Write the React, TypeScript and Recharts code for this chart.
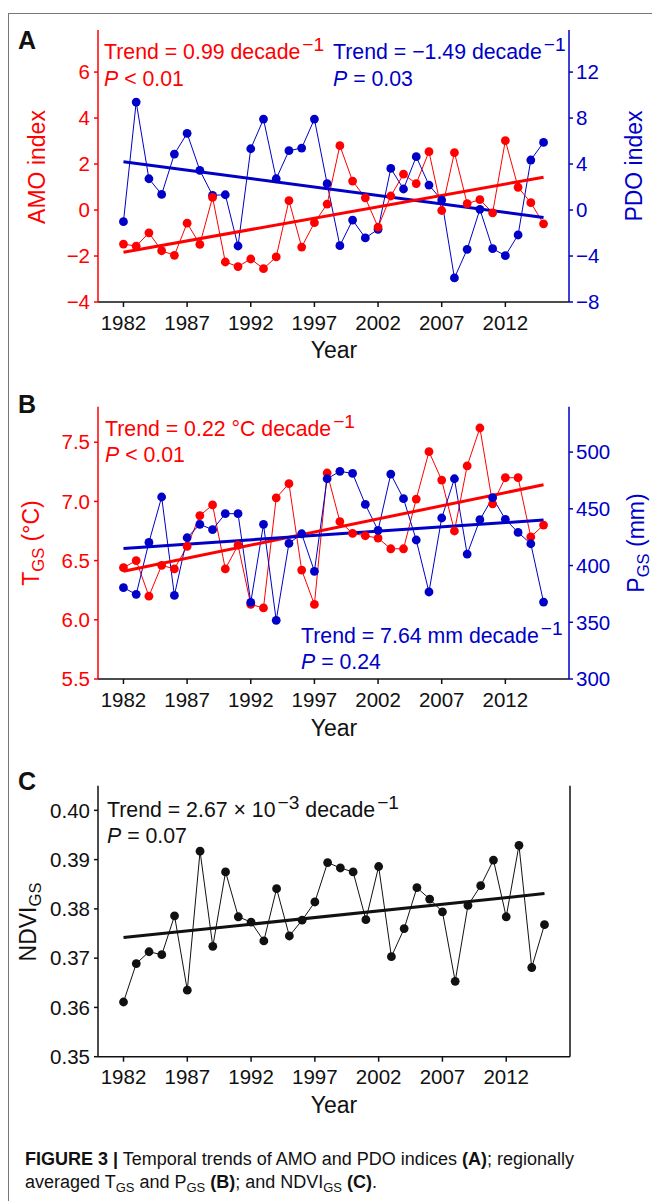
import React from 'react';
import { LineChart, Line, XAxis, YAxis } from 'recharts';

const years = [1982, 1983, 1984, 1985, 1986, 1987, 1988, 1989, 1990, 1991, 1992, 1993, 1994, 1995, 1996, 1997, 1998, 1999, 2000, 2001, 2002, 2003, 2004, 2005, 2006, 2007, 2008, 2009, 2010, 2011, 2012, 2013, 2014, 2015];

const amo = [-1.48, -1.57, -0.99, -1.77, -1.97, -0.57, -1.49, 0.55, -2.26, -2.46, -2.13, -2.55, -2.04, 0.41, -1.61, -0.55, 0.26, 2.8, 1.26, 0.53, -0.74, 0.61, 1.56, 1.15, 2.54, -0.02, 2.5, 0.28, 0.45, -0.12, 3.02, 0.99, 0.32, -0.6];
const pdo = [-1.01, 9.39, 2.72, 1.36, 4.87, 6.67, 3.45, 1.28, 1.33, -3.13, 5.33, 7.91, 2.72, 5.16, 5.39, 7.91, 2.29, -3.1, -0.87, -2.43, -1.68, 3.62, 1.83, 4.64, 2.17, 0.87, -5.91, -3.42, 0.06, -3.36, -3.97, -2.17, 4.35, 5.88];

const tgs = [6.44, 6.5, 6.2, 6.46, 6.43, 6.62, 6.88, 6.97, 6.43, 6.63, 6.13, 6.1, 7.03, 7.15, 6.42, 6.13, 7.24, 6.83, 6.73, 6.71, 6.69, 6.6, 6.6, 7.02, 7.42, 7.18, 6.75, 7.3, 7.62, 6.98, 7.2, 7.2, 6.7, 6.8];
const pgs = [380.5, 374.6, 420.4, 460.4, 373.7, 424.5, 436.3, 431.6, 445.7, 445.7, 367.5, 436.3, 351.7, 419.5, 428.0, 394.9, 476.5, 483.0, 481.2, 453.9, 431.0, 480.6, 458.9, 422.5, 376.7, 441.9, 476.5, 410.1, 440.4, 459.8, 440.7, 429.2, 419.2, 367.8];

const ndvi = [0.3611, 0.3689, 0.3713, 0.3707, 0.3786, 0.3635, 0.3917, 0.3724, 0.3875, 0.3784, 0.3773, 0.3735, 0.3841, 0.3745, 0.3777, 0.3814, 0.3894, 0.3883, 0.3875, 0.3778, 0.3886, 0.3703, 0.376, 0.3843, 0.382, 0.3794, 0.3653, 0.3807, 0.3847, 0.3899, 0.3784, 0.3929, 0.3681, 0.3768];

const trendYears = [1982, 2015];
const amoTrend = [-1.84, 1.43];
const pdoTrend = [4.2, -0.64];
const tgsTrend = [6.41, 7.14];
const pgsTrend = [415.1, 440.1];
const ndviTrend = [0.3742, 0.3831];

const yearTicks = [1982, 1987, 1992, 1997, 2002, 2007, 2012];
const amoTicks = [-4, -2, 0, 2, 4, 6];
const pdoTicks = [-8, -4, 0, 4, 8, 12];
const tgsTicks = [5.5, 6.0, 6.5, 7.0, 7.5];
const pgsTicks = [300, 350, 400, 450, 500];
const ndviTicks = [0.35, 0.36, 0.37, 0.38, 0.39, 0.4];

const RED = '#ff0000';
const BLUE = '#0000c8';
const BLACK = '#111111';
const F = "'Liberation Sans', Arial, Helvetica, sans-serif";
const TICK = 20.5;
const ANN = 21.3;

const dataA = years.map((y, i) => ({ year: y, amo: amo[i], pdo: pdo[i] }));
const dataB = years.map((y, i) => ({ year: y, tgs: tgs[i], pgs: pgs[i] }));
const dataC = years.map((y, i) => ({ year: y, ndvi: ndvi[i] }));
const trendA1 = trendYears.map((y, i) => ({ year: y, v: amoTrend[i] }));
const trendA2 = trendYears.map((y, i) => ({ year: y, v: pdoTrend[i] }));
const trendB1 = trendYears.map((y, i) => ({ year: y, v: tgsTrend[i] }));
const trendB2 = trendYears.map((y, i) => ({ year: y, v: pgsTrend[i] }));
const trendC = trendYears.map((y, i) => ({ year: y, v: ndviTrend[i] }));

const Sup = ({ children }: { children: React.ReactNode }) => (
  <span style={{ fontSize: '0.9em', position: 'relative', top: '-0.42em', marginLeft: 2 }}>{children}</span>
);
const Sub = ({ children }: { children: React.ReactNode }) => (
  <span style={{ fontSize: '0.72em', position: 'relative', top: '0.3em' }}>{children}</span>
);

const Txt = ({ x, y, color, size = ANN, children, weight }: any) => (
  <div
    style={{
      position: 'absolute',
      left: x,
      top: y,
      transform: 'translateY(-50%)',
      color,
      fontSize: size,
      fontFamily: F,
      fontWeight: weight || 'normal',
      whiteSpace: 'nowrap',
      lineHeight: 1,
    }}
  >
    {children}
  </div>
);

const CTxt = ({ x, y, color, size = 23, children, rotate }: any) => (
  <div
    style={{
      position: 'absolute',
      left: x,
      top: y,
      transform: `translate(-50%, -50%)${rotate ? ' rotate(-90deg)' : ''}`,
      color,
      fontSize: size,
      fontFamily: F,
      whiteSpace: 'nowrap',
      lineHeight: 1,
    }}
  >
    {children}
  </div>
);

const tickStyle = (c: string) => ({ fill: c, fontSize: TICK, fontFamily: F });

const commonX = (h: number) => (
  <XAxis
    xAxisId="b"
    dataKey="year"
    type="number"
    domain={[1980, 2017]}
    ticks={yearTicks}
    allowDataOverflow
    height={h}
    tickSize={5}
    tickMargin={8}
    stroke={BLACK}
    strokeWidth={1.5}
    tick={tickStyle(BLACK)}
    tickLine={{ stroke: BLACK, strokeWidth: 1.5 }}
  />
);
const topX = (color: string) => (
  <XAxis
    xAxisId="t"
    dataKey="year"
    type="number"
    domain={[1980, 2017]}
    orientation="top"
    height={0}
    tick={false}
    tickLine={false}
    axisLine={{ stroke: color, strokeWidth: 1.5 }}
  />
);

const dot = (c: string) => ({ r: 4.4, fill: c, stroke: c, strokeWidth: 0 });

export default function App() {
  return (
    <div style={{ position: 'absolute', left: 0, top: 0, width: 652, height: 1201, background: '#fff', overflow: 'hidden' }}>
      {/* frame */}
      <div style={{ position: 'absolute', left: 8, top: 13, width: 644, height: 0, borderTop: '1.5px solid #777' }} />
      <div style={{ position: 'absolute', left: 8, top: 13, width: 0, height: 1188, borderLeft: '1.5px solid #777' }} />

      {/* Panel A */}
      <div style={{ position: 'absolute', left: 0, top: 0 }}>
        <LineChart width={652} height={340} data={dataA} margin={{ top: 30, right: 0, bottom: 0, left: 0 }}>
          {commonX(38)}
          {topX(BLACK)}
          <YAxis
            yAxisId="l"
            orientation="left"
            width={98}
            domain={[-4, 7.83]}
            ticks={amoTicks}
            allowDataOverflow
            tickSize={4}
            tickMargin={4}
            stroke={RED}
            strokeWidth={1.5}
            tick={tickStyle(RED)}
            tickFormatter={(v: number) => (v < 0 ? '\u2212' + Math.abs(v) : String(v))}
          />
          <YAxis
            yAxisId="r"
            orientation="right"
            width={83}
            domain={[-8, 15.66]}
            ticks={pdoTicks}
            allowDataOverflow
            tickSize={4}
            tickMargin={3}
            stroke={BLUE}
            strokeWidth={1.5}
            tick={tickStyle(BLUE)}
            tickFormatter={(v: number) => (v < 0 ? '\u2212' + Math.abs(v) : String(v))}
          />
          <Line xAxisId="b" yAxisId="r" dataKey="pdo" stroke={BLUE} strokeWidth={1} dot={dot(BLUE)} isAnimationActive={false} />
          <Line xAxisId="b" yAxisId="l" dataKey="amo" stroke={RED} strokeWidth={1} dot={dot(RED)} isAnimationActive={false} />
          <Line xAxisId="b" yAxisId="r" data={trendA2} dataKey="v" stroke={BLUE} strokeWidth={3} dot={false} isAnimationActive={false} />
          <Line xAxisId="b" yAxisId="l" data={trendA1} dataKey="v" stroke={RED} strokeWidth={3} dot={false} isAnimationActive={false} />
        </LineChart>
      </div>
      <Txt x={18} y={40} color={BLACK} size={25} weight="bold">A</Txt>
      <Txt x={104} y={53} color={RED}>Trend = 0.99 decade<Sup>{'\u22121'}</Sup></Txt>
      <Txt x={104} y={80} color={RED}><i>P</i> &lt; 0.01</Txt>
      <Txt x={333} y={53} color={BLUE}>Trend = {'\u2212'}1.49 decade<Sup>{'\u22121'}</Sup></Txt>
      <Txt x={333} y={80} color={BLUE}><i>P</i> = 0.03</Txt>
      <CTxt x={37} y={167} color={RED} rotate>AMO index</CTxt>
      <CTxt x={634} y={166} color={BLUE} rotate>PDO index</CTxt>
      <CTxt x={334} y={350} color={BLACK}>Year</CTxt>

      {/* Panel B */}
      <div style={{ position: 'absolute', left: 0, top: 380 }}>
        <LineChart width={652} height={340} data={dataB} margin={{ top: 26.7, right: 0, bottom: 0, left: 0 }}>
          {commonX(41)}
          {topX(BLACK)}
          <YAxis
            yAxisId="l"
            orientation="left"
            width={98}
            domain={[5.5, 7.8]}
            ticks={tgsTicks}
            allowDataOverflow
            tickSize={4}
            tickMargin={4}
            stroke={RED}
            strokeWidth={1.5}
            tick={tickStyle(RED)}
            tickFormatter={(v: number) => v.toFixed(1)}
          />
          <YAxis
            yAxisId="r"
            orientation="right"
            width={83}
            domain={[300, 540]}
            ticks={pgsTicks}
            allowDataOverflow
            tickSize={4}
            tickMargin={3}
            stroke={BLUE}
            strokeWidth={1.5}
            tick={tickStyle(BLUE)}
          />
          <Line xAxisId="b" yAxisId="l" dataKey="tgs" stroke={RED} strokeWidth={1} dot={dot(RED)} isAnimationActive={false} />
          <Line xAxisId="b" yAxisId="r" dataKey="pgs" stroke={BLUE} strokeWidth={1} dot={dot(BLUE)} isAnimationActive={false} />
          <Line xAxisId="b" yAxisId="l" data={trendB1} dataKey="v" stroke={RED} strokeWidth={3} dot={false} isAnimationActive={false} />
          <Line xAxisId="b" yAxisId="r" data={trendB2} dataKey="v" stroke={BLUE} strokeWidth={3} dot={false} isAnimationActive={false} />
        </LineChart>
      </div>
      <Txt x={18} y={404} color={BLACK} size={25} weight="bold">B</Txt>
      <Txt x={105} y={430} color={RED}>Trend = 0.22 °C decade<Sup>{'\u22121'}</Sup></Txt>
      <Txt x={105} y={456} color={RED}><i>P</i> &lt; 0.01</Txt>
      <Txt x={301} y={637} color={BLUE}>Trend = 7.64 mm decade<Sup>{'\u22121'}</Sup></Txt>
      <Txt x={301} y={663} color={BLUE}><i>P</i> = 0.24</Txt>
      <CTxt x={31} y={543} color={RED} rotate>T<Sub>GS</Sub> (°C)</CTxt>
      <CTxt x={636} y={543} color={BLUE} rotate>P<Sub>GS</Sub> (mm)</CTxt>
      <CTxt x={334} y={728} color={BLACK}>Year</CTxt>

      {/* Panel C */}
      <div style={{ position: 'absolute', left: 0, top: 760 }}>
        <LineChart width={652} height={340} data={dataC} margin={{ top: 25.7, right: 0, bottom: 0, left: 0 }}>
          {commonX(43.3)}
          {topX(BLACK)}
          <YAxis
            yAxisId="l"
            orientation="left"
            width={98}
            domain={[0.35, 0.405]}
            ticks={ndviTicks}
            allowDataOverflow
            tickSize={4}
            tickMargin={4}
            stroke={BLACK}
            strokeWidth={1.5}
            tick={tickStyle(BLACK)}
            tickFormatter={(v: number) => v.toFixed(2)}
          />
          <YAxis
            yAxisId="r"
            orientation="right"
            width={82}
            domain={[0.35, 0.405]}
            tick={false}
            tickLine={false}
            axisLine={{ stroke: BLACK, strokeWidth: 1.5 }}
          />
          <Line xAxisId="b" yAxisId="l" dataKey="ndvi" stroke={BLACK} strokeWidth={1} dot={dot(BLACK)} isAnimationActive={false} />
          <Line xAxisId="b" yAxisId="l" data={trendC} dataKey="v" stroke={BLACK} strokeWidth={3} dot={false} isAnimationActive={false} />
        </LineChart>
      </div>
      <Txt x={18} y={781} color={BLACK} size={25} weight="bold">C</Txt>
      <Txt x={107} y={811} color={BLACK}>Trend = 2.67 × 10<Sup>{'\u22123'}</Sup> decade<Sup>{'\u22121'}</Sup></Txt>
      <Txt x={107} y={837} color={BLACK}><i>P</i> = 0.07</Txt>
      <CTxt x={28} y={922} color={BLACK} rotate>NDVI<Sub>GS</Sub></CTxt>
      <CTxt x={334} y={1105} color={BLACK}>Year</CTxt>

      {/* Caption */}
      <div style={{ position: 'absolute', left: 25, top: 1148, fontFamily: F, fontSize: 18, lineHeight: '23px', color: '#111', whiteSpace: 'nowrap' }}>
        <div><b>FIGURE 3 |</b> Temporal trends of AMO and PDO indices <b>(A)</b>; regionally</div>
        <div>averaged T<Sub>GS</Sub> and P<Sub>GS</Sub> <b>(B)</b>; and NDVI<Sub>GS</Sub> <b>(C)</b>.</div>
      </div>
    </div>
  );
}
